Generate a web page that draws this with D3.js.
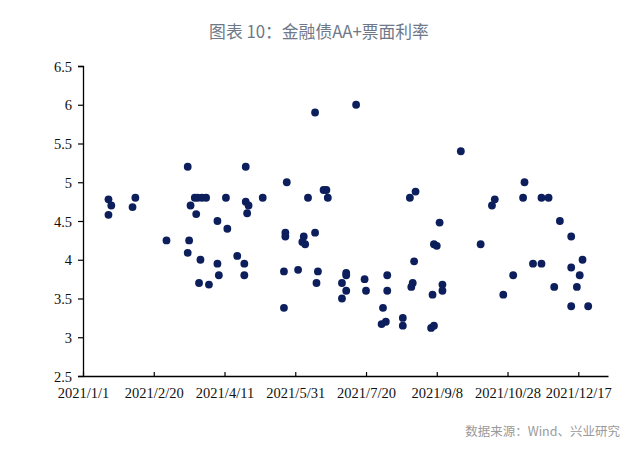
<!DOCTYPE html>
<html>
<head>
<meta charset="utf-8">
<script src="https://cdn.jsdelivr.net/npm/d3@7"></script>
<style>
  body { margin: 0; background: #fff; }
  svg { display: block; }
</style>
</head>
<body>
<script>
// 金融债AA+票面利率 (2021)
var dates = [
  "2021-01-19","2021-01-21","2021-01-19","2021-02-07","2021-02-05",
  "2021-03-01","2021-03-16","2021-03-17","2021-03-16",
  "2021-03-21","2021-03-23","2021-03-26","2021-03-29",
  "2021-03-18","2021-03-22","2021-03-25","2021-03-24","2021-03-31",
  "2021-04-06","2021-04-13","2021-04-06","2021-04-07","2021-04-12",
  "2021-04-20","2021-04-25","2021-04-25","2021-04-26","2021-04-26",
  "2021-04-28","2021-04-27","2021-05-08",
  "2021-05-25","2021-05-24","2021-05-24","2021-05-23","2021-06-02","2021-05-23",
  "2021-06-14","2021-07-13","2021-06-09","2021-06-20","2021-06-22","2021-06-23",
  "2021-06-06","2021-06-05","2021-06-07","2021-06-14","2021-06-16","2021-06-15",
  "2021-07-06","2021-07-06","2021-07-03","2021-07-06","2021-07-03",
  "2021-07-19","2021-07-20","2021-08-04","2021-08-04","2021-08-01",
  "2021-07-31","2021-08-03",
  "2021-09-25","2021-08-24","2021-08-20","2021-10-19","2021-10-17",
  "2021-09-10","2021-09-06","2021-09-08","2021-10-09",
  "2021-08-23","2021-08-22","2021-08-21","2021-09-12","2021-09-12",
  "2021-09-05","2021-08-15","2021-08-15","2021-09-04","2021-09-06",
  "2021-11-09","2021-11-08","2021-11-21","2021-11-26","2021-12-04",
  "2021-12-12","2021-12-20","2021-12-12","2021-12-18","2021-12-16",
  "2021-11-15","2021-11-21","2021-11-01","2021-10-25","2021-11-30",
  "2021-12-12","2021-12-24"
];
var rates = [
  4.78,4.70,4.58,4.80,4.68,
  4.25,5.20,4.25,4.09,
  4.80,4.80,4.80,4.80,
  4.70,4.59,4.00,3.70,3.68,
  4.50,4.40,3.95,3.80,4.80,
  4.05,3.95,3.80,5.20,4.75,
  4.70,4.60,4.80,
  5.00,4.35,4.30,3.85,3.87,3.38,
  5.90,6.00,4.80,4.90,4.90,4.80,
  4.30,4.23,4.20,4.35,3.85,3.70,
  3.83,3.80,3.70,3.60,3.50,
  3.75,3.60,3.80,3.60,3.38,
  3.17,3.20,
  5.40,4.88,4.80,4.78,4.70,
  4.48,4.20,4.18,4.20,
  3.98,3.70,3.65,3.68,3.60,
  3.55,3.25,3.15,3.12,3.15,
  5.00,4.80,4.80,4.80,4.50,
  4.30,4.00,3.90,3.80,3.65,
  3.95,3.95,3.80,3.55,3.65,
  3.40,3.40
];
var yTicks = [2.5, 3, 3.5, 4, 4.5, 5, 5.5, 6, 6.5];
var xTickLabels = ["2021/1/1","2021/2/20","2021/4/11","2021/5/31","2021/7/20","2021/9/8","2021/10/28","2021/12/17"];
var title = "图表 10：金融债AA+票面利率";
var source = "数据来源：Wind、兴业研究";

function init() {
  var w = 640, h = 460;
  var parse = d3.utcParse("%Y-%m-%d");
  var parseTick = d3.utcParse("%Y/%-m/%-d");

  var data = dates.map(function(d, i) {
    return { date: parse(d), rate: rates[i] };
  });

  var svg = d3.select("body").append("svg")
      .attr("width", w)
      .attr("height", h);

  var x = d3.scaleUtc()
      .domain([parse("2021-01-01"), parse("2022-01-07")])
      .range([83, 608]);

  var y = d3.scaleLinear()
      .domain([2.5, 6.5])
      .range([376, 66]);

  svg.append("text")
      .attr("x", 319)
      .attr("y", 38)
      .attr("text-anchor", "middle")
      .style("font-family", "'Noto Sans CJK SC', 'Noto Sans', sans-serif")
      .style("font-size", "16.8px")
      .style("fill", "#6e7888")
      .text(title);

  // y axis
  var yAxis = d3.axisLeft(y)
      .tickValues(yTicks)
      .tickSize(5)
      .tickPadding(6)
      .tickFormat(function(d) { return d; });
  var gy = svg.append("g")
      .attr("transform", "translate(83,0)")
      .call(yAxis);

  // x axis, ticks point inward
  var xAxis = d3.axisBottom(x)
      .tickValues(xTickLabels.map(parseTick))
      .tickSizeInner(-4)
      .tickSizeOuter(0)
      .tickPadding(12)
      .tickFormat(function(d, i) { return xTickLabels[i]; });
  var gx = svg.append("g")
      .attr("transform", "translate(0,376)")
      .call(xAxis);

  [gx, gy].forEach(function(g) {
    g.select(".domain").attr("stroke", "#000").attr("stroke-width", 1.3);
    g.selectAll(".tick line").attr("stroke", "#000").attr("stroke-width", 1.2);
    g.selectAll(".tick text")
        .style("font-family", "'Liberation Serif', 'Times New Roman', serif")
        .style("font-size", "14.5px")
        .style("fill", "#111");
  });
  gy.selectAll(".tick text").attr("dy", "0.35em");

  svg.append("g")
    .selectAll("circle")
    .data(data)
    .enter()
    .append("circle")
    .attr("cx", function(d) { return x(d.date); })
    .attr("cy", function(d) { return y(d.rate); })
    .attr("r", 3.9)
    .attr("fill", "#0c1f5c");

  svg.append("text")
      .attr("x", 620)
      .attr("y", 436)
      .attr("text-anchor", "end")
      .style("font-family", "'Noto Sans CJK SC', 'Noto Sans', sans-serif")
      .style("font-size", "12.5px")
      .style("fill", "#9a9a9a")
      .text(source);
}

window.onload = init;
</script>
</body>
</html>
